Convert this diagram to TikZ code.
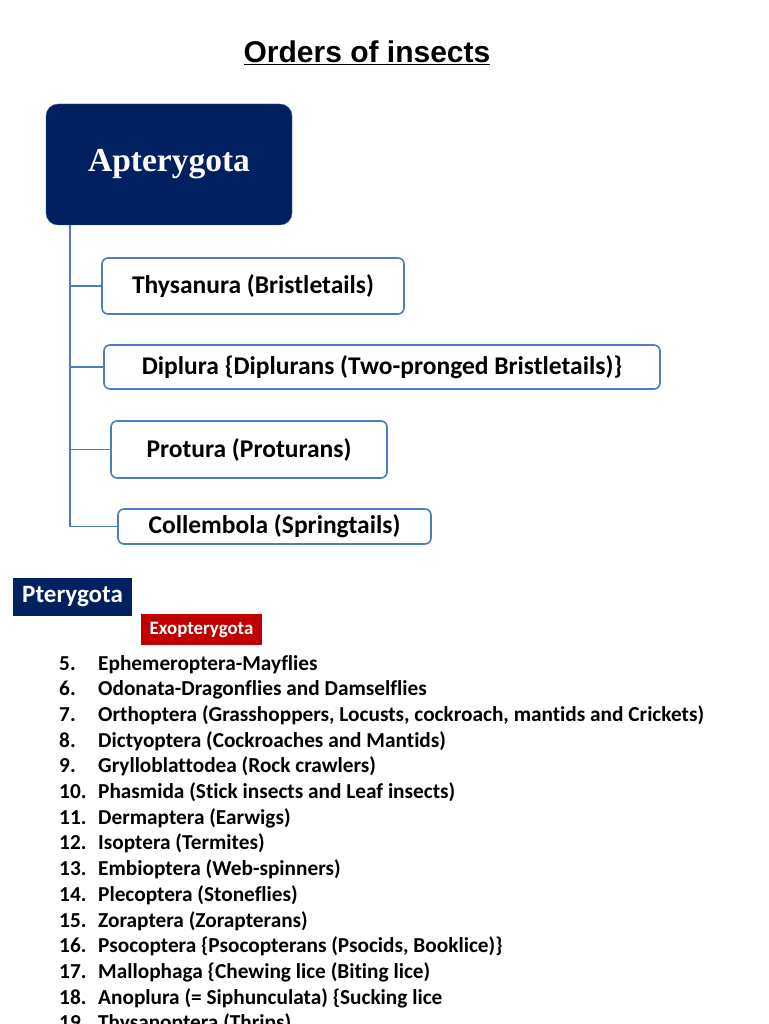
\documentclass[tikz,border=0pt]{standalone}
\usepackage{fontspec}
\setmainfont{Carlito}[Ligatures=NoCommon]
\newfontfamily\arialfont{Liberation Sans}
\newfontfamily\timesfont{Liberation Serif}
\usetikzlibrary{positioning}
\definecolor{navy}{HTML}{002060}
\definecolor{linkblue}{HTML}{4F7CBF}
\definecolor{exored}{HTML}{C00000}
\tikzset{
  orderbox/.style={draw=linkblue,line width=1.6pt,rounded corners=6pt,fill=white,
    inner sep=0pt,font=\fontsize{25.5}{30}\selectfont\bfseries},
  headbox/.style={fill=navy,text=white,inner sep=0pt},
  link/.style={draw=linkblue,line width=1.6pt},
  item/.style={anchor=base west,inner sep=0pt,font=\fontsize{21.3}{25}\selectfont\bfseries},
  num/.style={anchor=base west,inner sep=0pt,font=\fontsize{21.3}{25}\selectfont\bfseries}
}
\begin{document}
\begin{tikzpicture}[x=1pt,y=-1pt]
\useasboundingbox (0,0) rectangle (768,1024);
\clip (0,0) rectangle (768,1024);
% title
\node[font=\arialfont\fontsize{30}{34}\selectfont\bfseries] (title) at (367,53) {\underline{Orders of insects}};
% apterygota tree
\node[headbox,draw=linkblue!70!navy,rounded corners=12pt,minimum width=246pt,minimum height=121pt,
  font=\timesfont\fontsize{33.5}{38}\selectfont\bfseries] (apt) at (169,164.5) {Apterygota};
\node[orderbox,minimum width=302pt,minimum height=56pt] (thy) at (253,286) {Thysanura (Bristletails)};
\node[orderbox,minimum width=556pt,minimum height=44pt] (dip) at (382,367) {Diplura \{Diplurans (Two-pronged Bristletails)\}};
\node[orderbox,minimum width=276pt,minimum height=57pt] (pro) at (249,449.5) {Protura (Proturans)};
\node[orderbox,minimum width=313pt,minimum height=35pt] (col) at (274.5,526.5) {Collembola (Springtails)};
\coordinate (root) at (70,225);
\draw[link] (root) |- (thy.west);
\draw[link] (root) |- (dip.west);
\draw[link] (root) |- (pro.west);
\draw[link] (root) |- (col.west);
% pterygota
\node[headbox,minimum width=119pt,minimum height=38pt,font=\fontsize{25}{29}\selectfont\bfseries] (pte) at (72.5,597) {Pterygota};
\node[headbox,fill=exored,minimum width=121pt,minimum height=31pt,font=\fontsize{18.9}{22}\selectfont\bfseries] (exo) at (201.5,629.5) {Exopterygota};
\foreach \i/\txt in {
  5/{Ephemeroptera-Mayflies},
  6/{Odonata-Dragonflies and Damselflies},
  7/{Orthoptera (Grasshoppers, Locusts, cockroach, mantids and Crickets)},
  8/{Dictyoptera (Cockroaches and Mantids)},
  9/{Grylloblattodea (Rock crawlers)},
  10/{Phasmida (Stick insects and Leaf insects)},
  11/{Dermaptera (Earwigs)},
  12/{Isoptera (Termites)},
  13/{Embioptera (Web-spinners)},
  14/{Plecoptera (Stoneflies)},
  15/{Zoraptera (Zorapterans)},
  16/{Psocoptera \{Psocopterans (Psocids, Booklice)\}},
  17/{Mallophaga \{Chewing lice (Biting lice)},
  18/{Anoplura (= Siphunculata) \{Sucking lice},
  19/{Thysanoptera (Thrips)}}
{
  \node[num] (k\i) at (59,{670+25.7*(\i-5)}) {\i.};
  \node[item] (o\i) at (98,{670+25.7*(\i-5)}) {\txt};
}
\end{tikzpicture}
\end{document}
